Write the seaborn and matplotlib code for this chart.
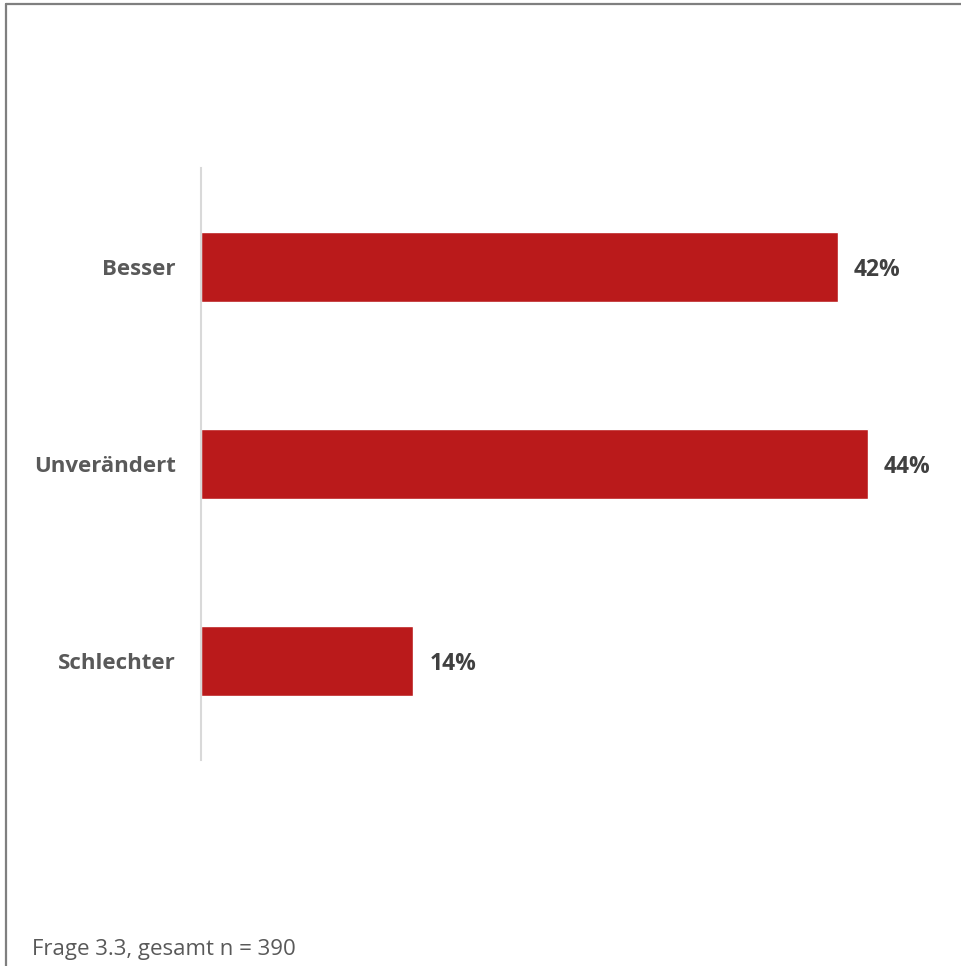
import matplotlib
matplotlib.use("Agg")
import matplotlib.pyplot as plt
from matplotlib.lines import Line2D
import seaborn as sns
import pandas as pd

categories = ["Besser", "Unverändert", "Schlechter"]
values = [42, 44, 14]
footnote = "Frage 3.3, gesamt n = 390"

bar_color = "#BA1A1B"
label_color = "#595959"
value_color = "#404040"

sns.set_theme(style="white")
plt.rcParams["font.family"] = ["Open Sans", "DejaVu Sans"]

df = pd.DataFrame({"Kategorie": categories, "Anteil": values})

W, H = 962, 966
fig = plt.figure(figsize=(W / 100, H / 100), dpi=100)
ax = fig.add_axes([201 / W, 1 - 760 / H, 758 / W, 592 / H])

sns.barplot(data=df, y="Kategorie", x="Anteil", orient="h", color=bar_color,
            saturation=1, width=0.355, ax=ax)

ax.set_xlim(0, 50)
ax.set_ylim(2.5, -0.5)
ax.set_xlabel("")
ax.set_ylabel("")
ax.set_xticks([])
ax.tick_params(axis="y", length=0, pad=18)
for lab in ax.get_yticklabels():
    lab.set_fontsize(16)
    lab.set_fontweight("bold")
    lab.set_color(label_color)

for side in ["top", "right", "bottom"]:
    ax.spines[side].set_visible(False)
ax.spines["left"].set_color("#d9d9d9")
ax.spines["left"].set_linewidth(1.5)

for container in ax.containers:
    texts = ax.bar_label(container, labels=[f"{v}%" for v in values], padding=11.5,
                         fontsize=16.5, fontweight="bold", color=value_color)
    for t in texts:
        t.set_va("center_baseline")

fig.text(32 / W, 1 - 950 / H, footnote, fontsize=16, color=label_color,
         ha="left", va="center")

# frame lines along the left and top edge
border = "#7f7f7f"
fig.add_artist(Line2D([6 / W, 6 / W], [0, 1 - 4 / H], transform=fig.transFigure,
                      color=border, linewidth=1.6))
fig.add_artist(Line2D([6 / W, 1], [1 - 4 / H, 1 - 4 / H], transform=fig.transFigure,
                      color=border, linewidth=1.6))

fig.savefig("out.png", dpi=100, facecolor="white")
